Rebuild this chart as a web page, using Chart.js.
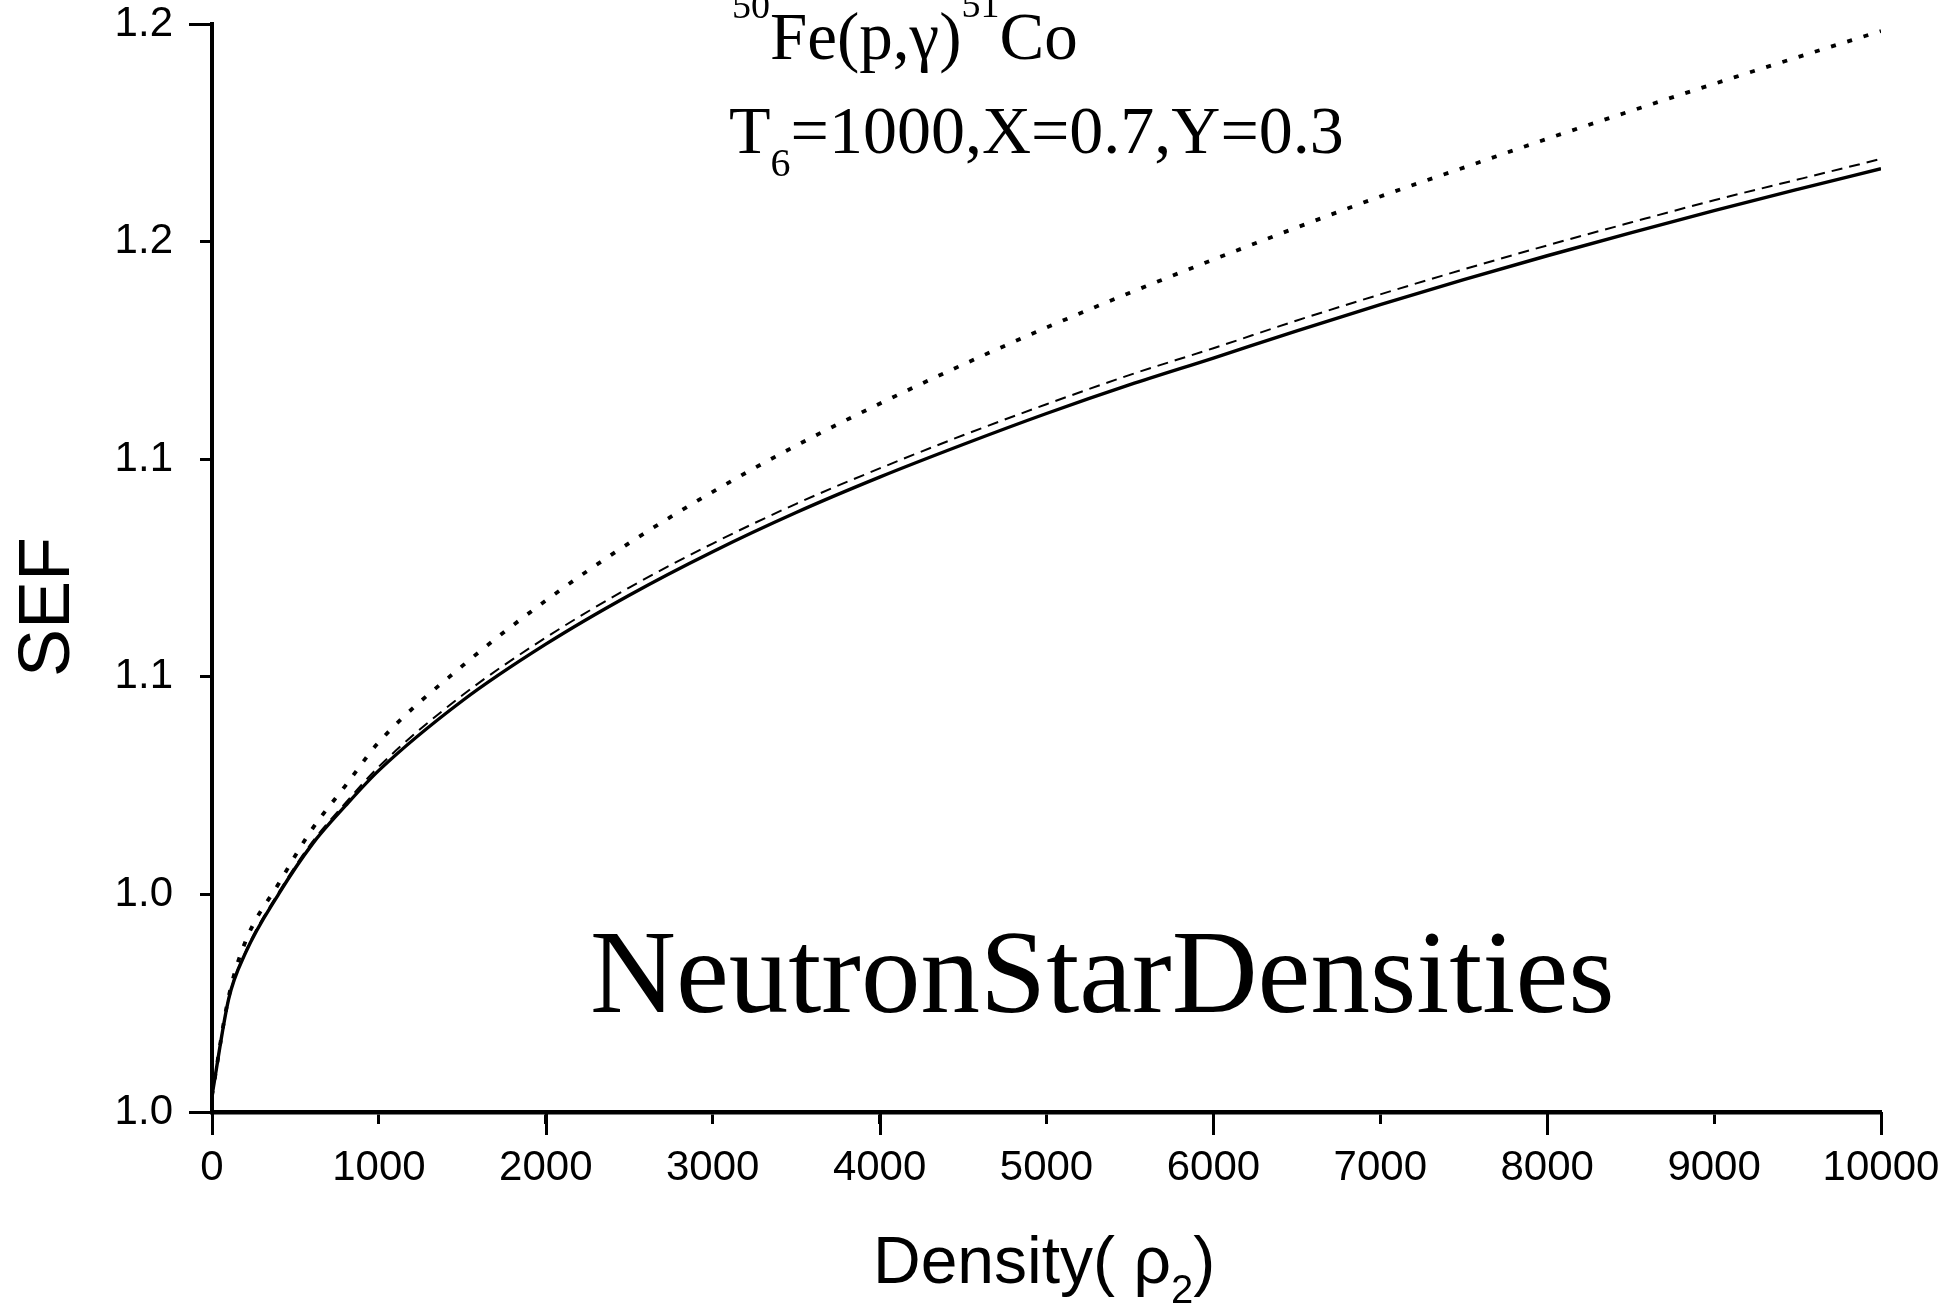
<!DOCTYPE html>
<html>
<head>
<meta charset="utf-8">
<title>SEF vs Density</title>
<script src="https://cdn.jsdelivr.net/npm/chart.js@4.4.1/dist/chart.umd.min.js"></script>
<style>
  html, body { margin: 0; padding: 0; background: #fff; }
  #chart { display: block; }
</style>
</head>
<body>
<canvas id="chart" width="1955" height="1311"></canvas>
<script>
// Data
const densities = [0, 100, 200, 400, 600, 800, 1000, 1500, 2000, 2500, 3000, 3500, 4000,
    4500, 5000, 5500, 6000, 6500, 7000, 7500, 8000, 8500, 9000, 9500, 10000];
const sefSolid = [1.0030, 1.0208, 1.0292, 1.0401, 1.0492, 1.0563, 1.0628, 1.0756, 1.0860, 1.0950,
    1.1030, 1.1102, 1.1167, 1.1227, 1.1284, 1.1337, 1.1386, 1.1436, 1.1484, 1.1530,
    1.1574, 1.1616, 1.1657, 1.1696, 1.1734];
const sefDashed = [1.0030, 1.0208, 1.0294, 1.0404, 1.0496, 1.0568, 1.0635, 1.0766, 1.0872, 1.0964,
    1.1045, 1.1118, 1.1183, 1.1244, 1.1301, 1.1355, 1.1404, 1.1455, 1.1503, 1.1549,
    1.1593, 1.1635, 1.1676, 1.1714, 1.1752];
const sefDotted = [1.0030, 1.0212, 1.0313, 1.0420, 1.0520, 1.0600, 1.0680, 1.0820, 1.0940, 1.1046,
    1.1140, 1.1225, 1.1302, 1.1374, 1.1442, 1.1506, 1.1567, 1.1626, 1.1683, 1.1736,
    1.1789, 1.1840, 1.1890, 1.1939, 1.1987];

// Axis ticks
const xMin = 0, xMax = 10000, xStep = 1000;
const yMin = 1.0, yMax = 1.2, yStep = 0.04;
const xMajorTicks = [0, 2000, 4000, 6000, 8000, 10000];
const yMajorTicks = [1.0, 1.2];

const SANS = "'Liberation Sans', Arial, sans-serif";
const SERIF = "'Liberation Serif', 'Times New Roman', serif";

function points(ys) {
    return densities.map((d, i) => ({ x: d, y: ys[i] }));
}

// draws a row of text pieces one after another (for sub/superscripts)
function drawRuns(ctx, x, baseline, runs) {
    runs.forEach(r => {
        ctx.font = `${r.size}px ${r.family}`;
        ctx.fillText(r.text, x, baseline + (r.dy || 0));
        x += ctx.measureText(r.text).width;
    });
}

const annotations = {
    id: 'annotations',
    afterDraw(chart) {
        const ctx = chart.ctx;
        const xs = chart.scales.x, ys = chart.scales.y;
        ctx.save();

        // longer major ticks
        ctx.strokeStyle = '#000';
        ctx.lineWidth = 3;
        xMajorTicks.forEach(v => {
            const px = Math.round(xs.getPixelForValue(v)) + 0.5;
            ctx.beginPath();
            ctx.moveTo(px, xs.top);
            ctx.lineTo(px, xs.top + 23);
            ctx.stroke();
        });
        yMajorTicks.forEach(v => {
            const py = Math.round(ys.getPixelForValue(v)) + 0.5;
            ctx.beginPath();
            ctx.moveTo(ys.right, py);
            ctx.lineTo(ys.right - 23, py);
            ctx.stroke();
        });

        ctx.fillStyle = '#000';
        ctx.textAlign = 'left';
        ctx.textBaseline = 'alphabetic';

        // reaction label
        drawRuns(ctx, 732, 59, [
            { text: '50', size: 38, family: SERIF, dy: -41 },
            { text: 'Fe(p,\u03b3)', size: 67, family: SERIF },
            { text: '51', size: 38, family: SERIF, dy: -42 },
            { text: 'Co', size: 67, family: SERIF }
        ]);
        drawRuns(ctx, 729, 153, [
            { text: 'T', size: 68, family: SERIF },
            { text: '6', size: 40, family: SERIF, dy: 23 },
            { text: '=1000,X=0.7,Y=0.3', size: 68, family: SERIF }
        ]);

        ctx.font = `119px ${SERIF}`;
        ctx.fillText('NeutronStarDensities', 590, 1012);

        // x axis title
        drawRuns(ctx, 873, 1283, [
            { text: 'Density( \u03c1', size: 66, family: SANS },
            { text: '2', size: 40, family: SANS, dy: 20 },
            { text: ')', size: 66, family: SANS }
        ]);

        // y axis title
        ctx.translate(69, 607);
        ctx.rotate(-Math.PI / 2);
        ctx.textAlign = 'center';
        ctx.font = `72px ${SANS}`;
        ctx.fillText('SEF', 0, 0);

        ctx.restore();
    }
};

Chart.defaults.font.family = SANS;
Chart.defaults.color = '#000';

new Chart(document.getElementById('chart'), {
    type: 'line',
    data: {
        datasets: [
            {
                label: 'solid',
                data: points(sefSolid),
                borderColor: '#000',
                borderWidth: 3.4,
                cubicInterpolationMode: 'monotone'
            },
            {
                label: 'dashed',
                data: points(sefDashed),
                borderColor: '#000',
                borderWidth: 2,
                borderDash: [11, 7],
                cubicInterpolationMode: 'monotone'
            },
            {
                label: 'dotted',
                data: points(sefDotted),
                borderColor: '#000',
                borderWidth: 3.8,
                borderDash: [5, 12],
                cubicInterpolationMode: 'monotone'
            }
        ]
    },
    options: {
        responsive: false,
        animation: false,
        events: [],
        elements: { point: { radius: 0 } },
        layout: { padding: { top: 24, right: 74, left: 0, bottom: 0 } },
        plugins: {
            legend: { display: false },
            tooltip: { enabled: false }
        },
        scales: {
            x: {
                type: 'linear',
                min: xMin,
                max: xMax,
                afterFit: s => {
                    s.height = 199;
                    s.paddingLeft = 0;
                    s.paddingRight = 0;
                },
                border: { display: true, color: '#000', width: 4.5 },
                grid: { drawOnChartArea: false, color: '#000', tickLength: 12, tickWidth: 3 },
                ticks: {
                    stepSize: xStep,
                    font: { size: 42 },
                    padding: 19,
                    maxRotation: 0,
                    autoSkip: false,
                    callback: v => String(v)
                }
            },
            y: {
                min: yMin,
                max: yMax,
                afterFit: s => {
                    s.width = 212;
                    s.paddingTop = 0;
                    s.paddingBottom = 0;
                },
                border: { display: true, color: '#000', width: 4 },
                grid: { drawOnChartArea: false, color: '#000', tickLength: 12, tickWidth: 3 },
                ticks: {
                    stepSize: yStep,
                    font: { size: 42 },
                    padding: 27,
                    callback: v => v.toFixed(1)
                }
            }
        }
    },
    plugins: [annotations]
});
</script>
</body>
</html>
